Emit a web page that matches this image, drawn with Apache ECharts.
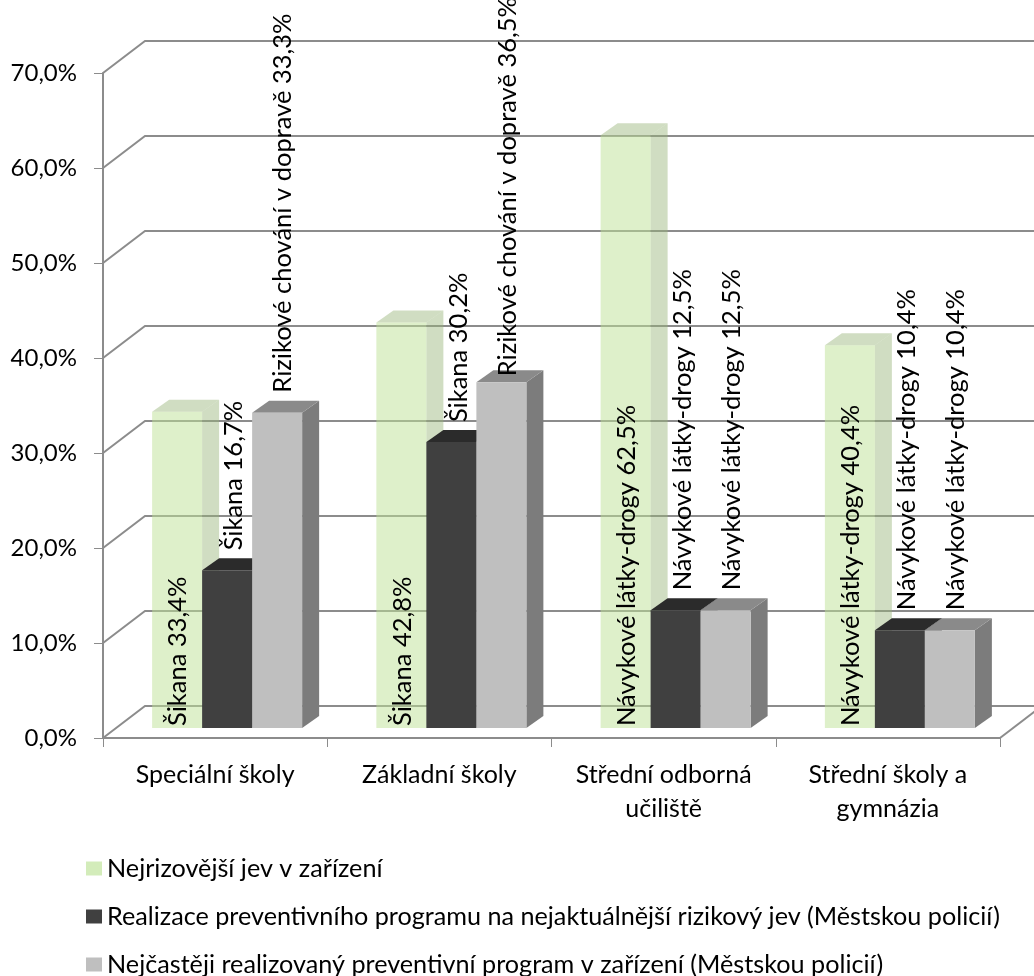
<!DOCTYPE html>
<html>
<head>
<meta charset="utf-8">
<style>html,body{margin:0;padding:0;background:#fff}#c{width:1034px;height:976px}</style>
<script src="https://cdn.jsdelivr.net/npm/echarts@6/dist/echarts.min.js"></script>
</head>
<body>
<div id="c"></div>
<script>
const categories = ['Speciální školy', 'Základní školy', 'Střední odborná\nučiliště', 'Střední školy a\ngymnázia'];
const seriesNames = ['Nejrizovější jev v zařízení',
  'Realizace preventivního programu na nejaktuálnější rizikový jev (Městskou policií)',
  'Nejčastěji realizovaný preventivní program v zařízení (Městskou policií)'];
const topValues = [33.4, 42.8, 62.5, 40.4];
const actualValues = [16.7, 30.2, 12.5, 10.4];
const frequentValues = [33.3, 36.5, 12.5, 10.4];
const topLabels = ['Šikana 33,4%', 'Šikana 42,8%', 'Návykové látky-drogy 62,5%', 'Návykové látky-drogy 40,4%'];
const actualLabels = ['Šikana 16,7%', 'Šikana 30,2%', 'Návykové látky-drogy 12,5%', 'Návykové látky-drogy 10,4%'];
const frequentLabels = ['Rizikové chování v dopravě 33,3%', 'Rizikové chování v dopravě 36,5%', 'Návykové látky-drogy 12,5%', 'Návykové látky-drogy 10,4%'];
const yTicks = [0, 10, 20, 30, 40, 50, 60, 70];

const FONT = 'Lato, "Open Sans", sans-serif';
const WALL_DX = 42, WALL_DY = 32, BAR_DX = 17, BAR_DY = 12, BASE_LIFT = 10, BAR_W = 50;
const BAR_LEFT = -63;
const GRID = '#8c8c8c';
const LABEL_FONT = '25.5px ' + FONT;
const LABEL_OFFSET = [26, 32, 31];
const faces = [
  {front: 'rgba(190,225,150,0.5)', top: 'rgba(150,180,120,0.45)', side: 'rgba(150,180,120,0.45)', legend: '#d3ecba'},
  {front: '#404040', top: '#2b2b2b', side: '#2b2b2b', legend: '#404040'},
  {front: '#bfbfbf', top: '#8a8a8a', side: '#7c7c7c', legend: '#bfbfbf'}
];
const allValues = [topValues, actualValues, frequentValues];
const allLabels = [topLabels, actualLabels, frequentLabels];
const measureCtx = document.createElement('canvas').getContext('2d');

function barRender(idx) {
  return function (params, api) {
    const cat = api.value(0), v = api.value(1);
    const bw = api.coord([cat, 0]);
    const tp = api.coord([cat, v]);
    const x0 = bw[0] + BAR_LEFT + idx * BAR_W, x1 = x0 + BAR_W;
    const yb = bw[1] - BASE_LIFT, yt = tp[1] - BASE_LIFT + 1;
    const f = faces[idx];
    return {type: 'group', children: [
      {type: 'polygon', shape: {points: [[x1, yb], [x1 + BAR_DX, yb - BAR_DY], [x1 + BAR_DX, yt - BAR_DY], [x1, yt]]}, style: {fill: f.side}},
      {type: 'polygon', shape: {points: [[x0, yt], [x0 + BAR_DX, yt - BAR_DY], [x1 + BAR_DX, yt - BAR_DY], [x1, yt]]}, style: {fill: f.top}},
      {type: 'polygon', shape: {points: [[x0, yb], [x1, yb], [x1, yt], [x0, yt]]}, style: {fill: f.front}}
    ]};
  };
}
function labelRender(idx) {
  return function (params, api) {
    const cat = api.value(0), v = api.value(1);
    const bw = api.coord([cat, 0]);
    const tp = api.coord([cat, v]);
    const x0 = bw[0] + BAR_LEFT + idx * BAR_W;
    const yt = tp[1] - BASE_LIFT + 1;
    const text = allLabels[idx][params.dataIndex];
    measureCtx.font = LABEL_FONT;
    const len = measureCtx.measureText(text).width;
    const y = idx === 0 ? bw[1] - BASE_LIFT - 2 : Math.max(yt - 20, len - 3);
    return {type: 'text', x: x0 + LABEL_OFFSET[idx], y: y, rotation: Math.PI / 2,
      style: {text: text, font: LABEL_FONT, fill: '#000', textAlign: 'left', textVerticalAlign: 'middle'}};
  };
}
function wallRender(params, api) {
  const v = api.value(0);
  const p = api.coord([0, v]);
  const left = params.coordSys.x, right = left + params.coordSys.width;
  const pts = [[left, p[1]], [left + WALL_DX, p[1] - WALL_DY], [right + WALL_DX, p[1] - WALL_DY]];
  const kids = [{type: 'polyline', shape: {points: pts}, style: {stroke: GRID, lineWidth: 2, fill: null}}];
  if (v === 0) kids.push({type: 'line', shape: {x1: right, y1: p[1], x2: right + WALL_DX, y2: p[1] - WALL_DY}, style: {stroke: GRID, lineWidth: 2}});
  return {type: 'group', children: kids};
}

const series = [{
  type: 'custom', name: 'wall', silent: true, z: 1, clip: false,
  data: yTicks.map(t => [t]), encode: {y: 0}, renderItem: wallRender
}];
allValues.forEach((vals, i) => series.push({
  type: 'custom', name: seriesNames[i], z: 2 + i, clip: false,
  itemStyle: {color: faces[i].legend},
  data: vals.map((v, c) => [c, v]), encode: {x: 0, y: 1}, renderItem: barRender(i)
}));
allValues.forEach((vals, i) => series.push({
  type: 'custom', name: 'labels' + i, silent: true, z: 10, clip: false,
  data: vals.map((v, c) => [c, v]), encode: {x: 0, y: 1}, renderItem: labelRender(i)
}));

const chart = echarts.init(document.getElementById('c'), null, {renderer: 'canvas'});
chart.setOption({
  animation: false,
  backgroundColor: '#fff',
  grid: {left: 103, right: 34, top: 73, bottom: 238},
  xAxis: {
    type: 'category', data: categories, z: 5,
    axisLine: {lineStyle: {color: GRID, width: 2}},
    axisTick: {show: true, length: 9, lineStyle: {color: GRID, width: 1}},
    axisLabel: {color: '#000', fontFamily: FONT, fontSize: 25, margin: 20, lineHeight: 34, interval: 0}
  },
  yAxis: {
    type: 'value', min: 0, max: 70, interval: 10, z: 5,
    axisLine: {show: true, lineStyle: {color: GRID, width: 2}},
    axisTick: {show: true, length: 9, lineStyle: {color: GRID, width: 1}},
    splitLine: {show: false},
    axisLabel: {color: '#000', fontFamily: FONT, fontSize: 24, margin: 26, formatter: v => v.toFixed(1).replace('.', ',') + '%'}
  },
  legend: seriesNames.map((name, i) => ({
    orient: 'vertical', left: 86, top: 856 + 48 * i, padding: 0, itemWidth: 16, itemHeight: 14, icon: 'rect',
    data: [name],
    selectedMode: false,
    textStyle: {color: '#000', fontFamily: FONT, fontSize: 25.2, lineHeight: 24}
  })),
  series: series
});
</script>
</body>
</html>
